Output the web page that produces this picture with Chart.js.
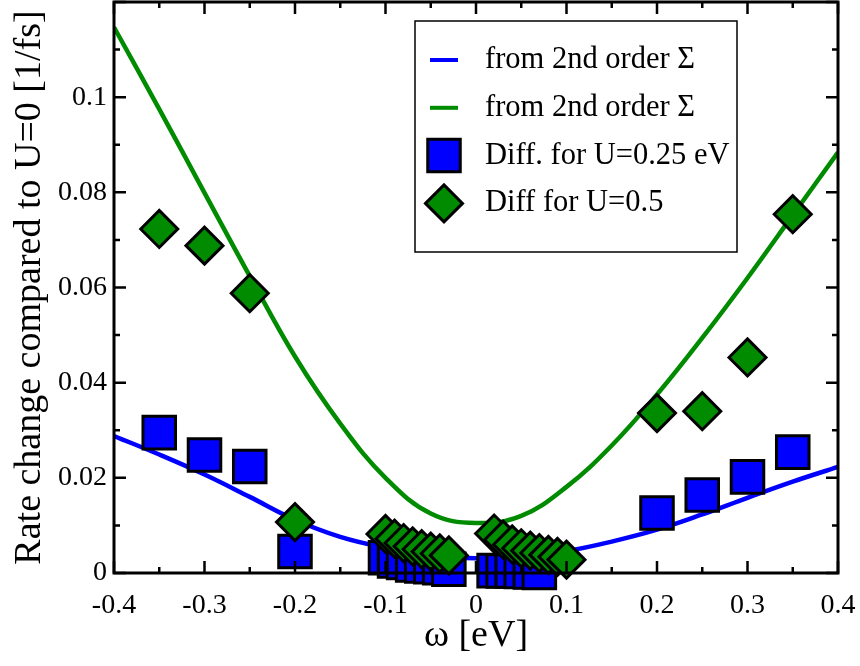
<!DOCTYPE html>
<html>
<head>
<meta charset="utf-8">
<title>Rate change compared to U=0</title>
<script src="https://cdn.jsdelivr.net/npm/chart.js@4.4.1/dist/chart.umd.min.js"></script>
<style>
  html, body { margin: 0; padding: 0; background: #fff; }
  canvas { display: block; }
</style>
</head>
<body>
<canvas id="myChart" width="860" height="666"></canvas>
<script>
// ω grid of the two 2nd-order Σ curves [eV]
const omega = [-0.4, -0.35, -0.3, -0.25, -0.2, -0.15, -0.1, -0.05, 0, 0.05, 0.1, 0.15, 0.2, 0.25, 0.3, 0.35, 0.4];
const blueCurve = [0.0288, 0.0249, 0.0207, 0.0160, 0.0112, 0.0076, 0.0053, 0.0038, 0.0031, 0.0034, 0.0046, 0.0066, 0.0091, 0.0123, 0.0158, 0.0192, 0.0223];
const greenCurve = [0.1147, 0.0975, 0.0799, 0.0624, 0.0455, 0.0314, 0.0200, 0.0125, 0.0105, 0.0120, 0.0181, 0.0268, 0.0375, 0.0494, 0.0620, 0.0752, 0.0884];

// differences, U=0.25 eV
const squareX = [-0.35, -0.3, -0.25, -0.2, -0.1, -0.09, -0.08, -0.07, -0.06, -0.05, -0.04, -0.03,
  0.02, 0.03, 0.04, 0.05, 0.06, 0.07, 0.2, 0.25, 0.3, 0.35];
const squareY = [0.0295, 0.0248, 0.0224, 0.0045, 0.0032, 0.0025, 0.0022, 0.0017, 0.0015, 0.0013, 0.0011, 0.0008,
  0.0005, 0.0004, 0.0004, 0.0003, 0.0002, 0.0001, 0.0126, 0.0164, 0.0202, 0.0254];

// differences, U=0.5
const diamondX = [-0.35, -0.3, -0.25, -0.2, -0.1, -0.09, -0.08, -0.07, -0.06, -0.05, -0.04, -0.03,
  0.02, 0.03, 0.04, 0.05, 0.06, 0.07, 0.08, 0.09, 0.1, 0.2, 0.25, 0.3, 0.35];
const diamondY = [0.0723, 0.0688, 0.0588, 0.0107, 0.0082, 0.0072, 0.0063, 0.0056, 0.0050, 0.0045, 0.0041, 0.0037,
  0.0083, 0.0070, 0.0060, 0.0052, 0.0047, 0.0042, 0.0038, 0.0034, 0.0028, 0.0336, 0.0340, 0.0453, 0.0754];

const xTickValues = [-0.4, -0.3, -0.2, -0.1, 0, 0.1, 0.2, 0.3, 0.4];
const xTickLabels = ["-0.4", "-0.3", "-0.2", "-0.1", "0", "0.1", "0.2", "0.3", "0.4"];
const yTickValues = [0, 0.02, 0.04, 0.06, 0.08, 0.1];
const yTickLabels = ["0", "0.02", "0.04", "0.06", "0.08", "0.1"];

const SERIF = "'Liberation Serif', 'Times New Roman', serif";
const BLUE = "#0000ff";
const GREEN = "#008b00";

function pairs(xs, ys) {
  return xs.map((x, i) => ({ x: x, y: ys[i] }));
}

// black frame with inward major/minor ticks on all four sides
const framePlugin = {
  id: "frame",
  afterDatasetsDraw(chart) {
    const { ctx, chartArea: a, scales: { x, y } } = chart;
    ctx.save();
    ctx.strokeStyle = "#000";
    ctx.lineWidth = 3;
    ctx.strokeRect(a.left, a.top, a.right - a.left, a.bottom - a.top);
    ctx.lineWidth = 2.5;
    ctx.beginPath();
    const nx = Math.round((x.max - x.min) / 0.05);
    for (let i = 0; i <= nx; i++) {
      const px = x.getPixelForValue(x.min + i * 0.05);
      const len = i % 2 === 0 ? 12 : 6;
      ctx.moveTo(px, a.bottom); ctx.lineTo(px, a.bottom - len);
      ctx.moveTo(px, a.top); ctx.lineTo(px, a.top + len);
    }
    const ny = Math.round((y.max - y.min) / 0.01);
    for (let i = 0; i <= ny; i++) {
      const py = y.getPixelForValue(y.min + i * 0.01);
      const len = i % 2 === 0 ? 12 : 6;
      ctx.moveTo(a.left, py); ctx.lineTo(a.left + len, py);
      ctx.moveTo(a.right, py); ctx.lineTo(a.right - len, py);
    }
    ctx.stroke();
    ctx.restore();
  }
};

// boxed legend inside the plot, upper right
const legendPlugin = {
  id: "boxLegend",
  afterDraw(chart) {
    const o = chart.options.plugins.boxLegend;
    const ctx = chart.ctx;
    ctx.save();
    ctx.fillStyle = "#fff";
    ctx.fillRect(o.left, o.top, o.width, o.height);
    ctx.strokeStyle = "#000";
    ctx.lineWidth = 1.5;
    ctx.strokeRect(o.left, o.top, o.width, o.height);
    ctx.font = o.font;
    ctx.textBaseline = "middle";
    chart.data.datasets.forEach((ds, i) => {
      const cy = o.top + o.firstRow + i * o.rowGap;
      const cx = o.left + o.symbolX;
      if (ds.showLine) {
        ctx.strokeStyle = ds.borderColor;
        ctx.lineWidth = 4;
        ctx.beginPath();
        ctx.moveTo(cx - 14, cy);
        ctx.lineTo(cx + 14, cy);
        ctx.stroke();
      } else {
        const r = ds.pointRadius;
        ctx.fillStyle = ds.backgroundColor;
        ctx.strokeStyle = ds.borderColor;
        ctx.lineWidth = ds.borderWidth;
        ctx.beginPath();
        if (ds.pointStyle === "rect") {
          const s = Math.SQRT1_2 * r;
          ctx.rect(cx - s, cy - s, 2 * s, 2 * s);
        } else {
          ctx.moveTo(cx - r, cy);
          ctx.lineTo(cx, cy - r);
          ctx.lineTo(cx + r, cy);
          ctx.lineTo(cx, cy + r);
          ctx.closePath();
        }
        ctx.fill();
        ctx.stroke();
      }
      ctx.fillStyle = "#000";
      ctx.fillText(ds.label, o.left + o.textX, cy);
    });
    ctx.restore();
  }
};

Chart.defaults.font.family = SERIF;
Chart.defaults.color = "#000";

new Chart(document.getElementById("myChart"), {
  type: "scatter",
  data: {
    datasets: [
      {
        label: "from 2nd order Σ",
        data: pairs(omega, blueCurve),
        showLine: true,
        pointRadius: 0,
        borderColor: BLUE,
        borderWidth: 4.5,
        tension: 0.4,
        order: 3
      },
      {
        label: "from 2nd order Σ",
        data: pairs(omega, greenCurve),
        showLine: true,
        pointRadius: 0,
        borderColor: GREEN,
        borderWidth: 4.5,
        tension: 0.4,
        order: 2
      },
      {
        label: "Diff. for U=0.25 eV",
        data: pairs(squareX, squareY),
        pointStyle: "rect",
        pointRadius: 23,
        backgroundColor: BLUE,
        borderColor: "#000",
        borderWidth: 3,
        clip: false,
        order: 1
      },
      {
        label: "Diff for U=0.5",
        data: pairs(diamondX, diamondY),
        pointStyle: "rectRot",
        pointRadius: 18.5,
        backgroundColor: GREEN,
        borderColor: "#000",
        borderWidth: 3,
        clip: false,
        order: 0
      }
    ]
  },
  options: {
    responsive: false,
    animation: false,
    events: [],
    layout: { autoPadding: false, padding: { top: 2, right: 22, left: 0, bottom: 0 } },
    plugins: {
      legend: { display: false },
      tooltip: { enabled: false },
      boxLegend: {
        left: 415, top: 21, width: 322, height: 231,
        firstRow: 39, rowGap: 47.8, symbolX: 29, textX: 70,
        font: "30.5px " + SERIF
      }
    },
    scales: {
      x: {
        type: "linear",
        min: -0.4,
        max: 0.4,
        grid: { display: false, drawTicks: false },
        border: { display: false },
        afterBuildTicks: (s) => { s.ticks = xTickValues.map((v) => ({ value: v })); },
        afterFit: (s) => { s.height = 93; s.paddingLeft = 0; s.paddingRight = 0; },
        ticks: {
          font: { size: 28 },
          padding: 16,
          maxRotation: 0,
          autoSkip: false,
          callback: (v, i) => xTickLabels[i]
        },
        title: {
          display: true,
          text: "ω [eV]",
          font: { size: 38 },
          padding: { bottom: 7 }
        }
      },
      y: {
        type: "linear",
        min: 0,
        max: 0.12,
        grid: { display: false, drawTicks: false },
        border: { display: false },
        afterBuildTicks: (s) => { s.ticks = yTickValues.map((v) => ({ value: v })); },
        afterFit: (s) => { s.width = 114; s.paddingTop = 0; s.paddingBottom = 0; },
        ticks: {
          font: { size: 28 },
          padding: 7,
          autoSkip: false,
          callback: (v, i) => yTickLabels[i]
        },
        title: {
          display: true,
          text: "Rate change compared to U=0 [1/fs]",
          font: { size: 38 },
          padding: { top: 7 }
        }
      }
    }
  },
  plugins: [framePlugin, legendPlugin]
});
</script>
</body>
</html>
